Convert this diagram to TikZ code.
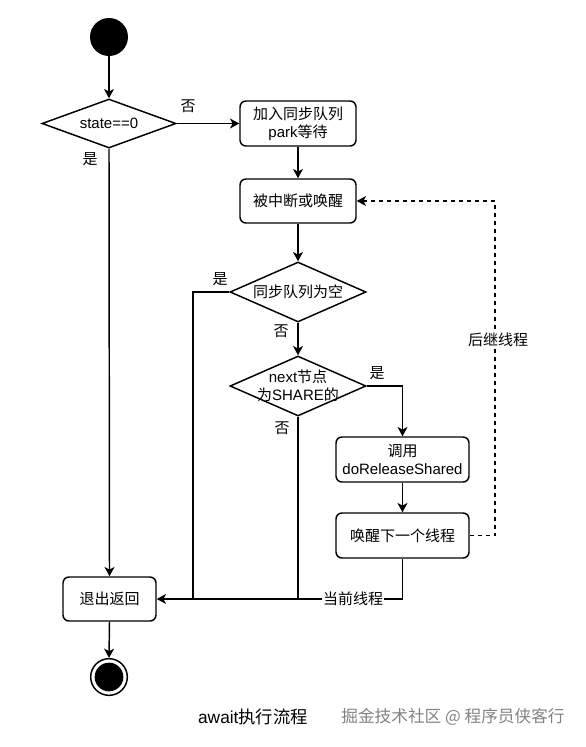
\documentclass[tikz,border=0pt]{standalone}
\usepackage{fontspec}
\setmainfont{Liberation Sans}
\newfontfamily\cjk{Noto Sans CJK SC}
\usetikzlibrary{shapes.geometric,arrows.meta}
\begin{document}
\begin{tikzpicture}[x=0.75pt,y=-0.75pt,
  every node/.style={font=\fontsize{11.25}{13.5}\selectfont},
  box/.style={draw, rounded corners=4.5pt, line width=1.1pt, minimum height=33.75pt, inner sep=0pt, align=center},
  dia/.style={draw, diamond, line width=1.1pt, inner sep=0pt, minimum width=102pt, minimum height=45pt},
  txt/.style={inner sep=0pt, align=center},
  conn/.style={line width=1.1pt, -{Stealth[length=7pt,width=7.5pt,inset=2pt]}},
  plain/.style={line width=1.1pt},
  lab/.style={inner sep=1pt, font=\cjk\fontsize{11.25}{13.5}\selectfont},
]
\path[use as bounding box] (0,0) rectangle (586,747);

% nodes
\node (s) [circle, fill, minimum size=28.5pt, inner sep=0pt] at (109,37) {};
\node (d1) [dia, minimum width=100.5pt, minimum height=36.75pt] at (109,123.5) {};
\node (d1t) [txt] at (d1) {state==0};
\node (b1) [box, minimum width=87pt] at (298,123.5) {{\cjk 加入同步队列}\\park{\cjk 等待}};
\node (b2) [box, minimum width=87pt, minimum height=33pt] at (298,201) {\cjk 被中断或唤醒};
\node (d2) [dia] at (298,292) {};
\node (d2t) [txt] at (d2) {\cjk 同步队列为空};
\node (d3) [dia] at (298,386) {};
\node (d3t) [txt] at (d3) {next{\cjk 节点}\\{\cjk 为}SHARE{\cjk 的}};
\node (b3) [box, minimum width=99.75pt] at (402.5,459.5) {{\cjk 调用}\\doReleaseShared};
\node (b4) [box, minimum width=99.75pt] at (402.5,535.5) {\cjk 唤醒下一个线程};
\node (b5) [box, minimum width=69.75pt, minimum height=33pt] at (109.5,599) {\cjk 退出返回};
\node (e) [circle, draw, line width=1.1pt, minimum size=27.5pt, inner sep=0pt] at (109,677) {};
\node (ei) [circle, fill, minimum size=21.5pt, inner sep=0pt] at (e) {};

\coordinate (j1) at (193,599);
\coordinate (j2) at (298,599);
\coordinate (c1) at (495,201);

% connectors
\draw[conn] (s) -- (d1);
\draw[conn] (d1.east) -- (b1.west);
\draw[conn] (d1.south) -- (b5.north);
\draw[conn] (b1) -- (b2);
\draw[conn] (b2) -- (d2);
\draw[conn] (d2) -- (d3);
\draw[conn] (d3.east) -| (b3.north);
\draw[conn] (b3) -- (b4);
\draw[plain] (d2.west) -| (j1);
\draw[plain] (d3.south) -- (j2);
\draw[conn] (b4.south) |- (b5.east);
\draw[conn, dash pattern=on 3pt off 3pt] (b4.east) -| (c1) -- (b2.east);
\draw[conn] (b5.south) -- (e.north);

% labels
\node[lab] (l1) at (188,106) {否};
\node[lab] (l2) at (90,159) {是};
\node[lab] (l3) at (220,279) {是};
\node[lab] (l4) at (281,331) {否};
\node[lab] (l5) at (377,373) {是};
\node[lab] (l6) at (282,428) {否};
\node[lab, fill=white, inner sep=0.5pt] (l7) at (353,599) {当前线程};
\node[lab, fill=white] (l8) at (498,340) {后继线程};

% caption
\node (cap) at (253,717) {\fontsize{13}{15}\selectfont await{\cjk 执行流程}};
\node (wm) [text={rgb,255:red,130;green,130;blue,130}, font=\cjk\fontsize{12.5}{15}\selectfont] at (453,717) {掘金技术社区 @ 程序员侠客行};
\end{tikzpicture}
\end{document}
